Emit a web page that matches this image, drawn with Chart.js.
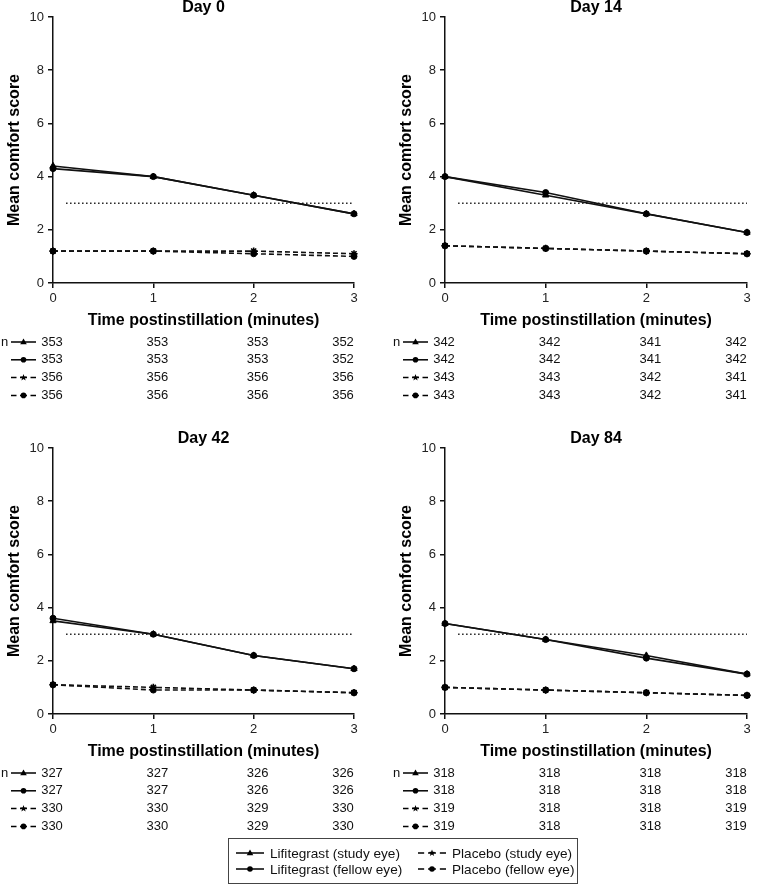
<!DOCTYPE html>
<html>
<head>
<meta charset="utf-8">
<script src="https://cdn.jsdelivr.net/npm/chart.js@4/dist/chart.umd.min.js"></script>
<style>
  html, body { margin:0; padding:0; background:#fff; }
  body { width:757px; height:887px; position:relative; overflow:hidden; font-family:"Liberation Sans", Arial, sans-serif; }
  canvas.panel { position:absolute; }
  #legend { position:absolute; left:228px; top:838px; width:350px; height:46px; border:1px solid #444; box-sizing:border-box; }
  .litem { position:absolute; font-size:13.6px; color:#111; white-space:nowrap; line-height:16px; }
  .litem canvas { vertical-align:middle; margin-right:5px; position:relative; top:-1px; }
</style>
</head>
<body>
<canvas id="c0" class="panel" width="378" height="410" style="left:0px;top:0px"></canvas>
<canvas id="c1" class="panel" width="379" height="410" style="left:378px;top:0px"></canvas>
<canvas id="c2" class="panel" width="378" height="410" style="left:0px;top:431px"></canvas>
<canvas id="c3" class="panel" width="379" height="410" style="left:378px;top:431px"></canvas>
<div id="legend"></div>
<script>
// ---------- data ----------
const timePoints = [0, 1, 2, 3];
const yTicks = [0, 2, 4, 6, 8, 10];
const panelTitles = ['Day 0', 'Day 14', 'Day 42', 'Day 84'];
const seriesNames = ['Lifitegrast (study eye)', 'Lifitegrast (fellow eye)', 'Placebo (study eye)', 'Placebo (fellow eye)'];
const xAxisTitle = 'Time postinstillation (minutes)';
const yAxisTitle = 'Mean comfort score';
const referenceScore = 3;

const day0LifStudy  = [4.4, 4.0, 3.3, 2.6];
const day0LifFellow = [4.3, 4.0, 3.3, 2.6];
const day0PboStudy  = [1.2, 1.2, 1.2, 1.1];
const day0PboFellow = [1.2, 1.2, 1.1, 1.0];

const day14LifStudy  = [4.0, 3.3, 2.6, 1.9];
const day14LifFellow = [4.0, 3.4, 2.6, 1.9];
const day14PboStudy  = [1.4, 1.3, 1.2, 1.1];
const day14PboFellow = [1.4, 1.3, 1.2, 1.1];

const day42LifStudy  = [3.5, 3.0, 2.2, 1.7];
const day42LifFellow = [3.6, 3.0, 2.2, 1.7];
const day42PboStudy  = [1.1, 1.0, 0.9, 0.8];
const day42PboFellow = [1.1, 0.9, 0.9, 0.8];

const day84LifStudy  = [3.4, 2.8, 2.2, 1.5];
const day84LifFellow = [3.4, 2.8, 2.1, 1.5];
const day84PboStudy  = [1.0, 0.9, 0.8, 0.7];
const day84PboFellow = [1.0, 0.9, 0.8, 0.7];

const nDay0  = [[353, 353, 353, 352], [353, 353, 353, 352], [356, 356, 356, 356], [356, 356, 356, 356]];
const nDay14 = [[342, 342, 341, 342], [342, 342, 341, 342], [343, 343, 342, 341], [343, 343, 342, 341]];
const nDay42 = [[327, 327, 326, 326], [327, 327, 326, 326], [330, 330, 329, 330], [330, 330, 329, 330]];
const nDay84 = [[318, 318, 318, 318], [318, 318, 318, 318], [319, 318, 318, 319], [319, 318, 318, 319]];

// ---------- styles ----------
const FONT = '"Liberation Sans", Arial, sans-serif';
const seriesStyle = [
  { dash: [], point: 'triangle', radius: 3.6 },
  { dash: [], point: 'circle', radius: 3 },
  { dash: [5, 3], point: 'star', radius: 3.6 },
  { dash: [5, 3], point: 'circle', radius: 3 }
];
const nColumnShift = [-1, 4, 4, -11];

function drawMarker(ctx, style, x, y) {
  ctx.save();
  ctx.fillStyle = '#000'; ctx.strokeStyle = '#000'; ctx.lineWidth = 1.2; ctx.setLineDash([]);
  if (style.point === 'circle') {
    ctx.beginPath(); ctx.arc(x, y, 2.8, 0, Math.PI * 2); ctx.fill();
  } else if (style.point === 'triangle') {
    ctx.beginPath(); ctx.moveTo(x, y - 3.5); ctx.lineTo(x + 3.3, y + 2.2); ctx.lineTo(x - 3.3, y + 2.2); ctx.closePath(); ctx.fill();
  } else {
    ctx.beginPath();
    for (let k = 0; k < 10; k++) {
      const r = k % 2 === 0 ? 3.6 : 1.5;
      const a = -Math.PI / 2 + k * Math.PI / 5;
      const px = x + r * Math.cos(a), py = y + r * Math.sin(a);
      if (k === 0) ctx.moveTo(px, py); else ctx.lineTo(px, py);
    }
    ctx.closePath(); ctx.fill();
  }
  ctx.restore();
}

function drawSymbol(ctx, x1, x2, y, style) {
  ctx.save();
  ctx.strokeStyle = '#000'; ctx.lineWidth = 1.5;
  if (style.dash.length) {
    const w = x2 - x1;
    ctx.beginPath();
    ctx.moveTo(x1, y); ctx.lineTo(x1 + w * 0.22, y);
    ctx.moveTo(x1 + w * 0.36, y); ctx.lineTo(x1 + w * 0.64, y);
    ctx.moveTo(x1 + w * 0.78, y); ctx.lineTo(x2, y);
    ctx.stroke();
  } else {
    ctx.beginPath(); ctx.moveTo(x1, y); ctx.lineTo(x2, y); ctx.stroke();
  }
  drawMarker(ctx, style, (x1 + x2) / 2, y);
  ctx.restore();
}

const decorPlugin = {
  id: 'decor',
  afterDraw(chart, args, opts) {
    const { ctx, chartArea } = chart;
    const { left, right, top, bottom } = chartArea;
    const xs = chart.scales.x;
    ctx.save();
    ctx.fillStyle = '#000';
    ctx.textBaseline = 'middle';
    ctx.textAlign = 'center';
    ctx.font = 'bold 16px ' + FONT;
    ctx.fillText(opts.title, (left + right) / 2, 8);
    ctx.fillText(xAxisTitle, (left + right) / 2, bottom + 38);
    ctx.save();
    ctx.translate(left - 38, (top + bottom) / 2);
    ctx.rotate(-Math.PI / 2);
    ctx.fillText(yAxisTitle, 0, 0);
    ctx.restore();
    ctx.font = '13px ' + FONT;
    ctx.fillStyle = '#111';
    opts.nRows.forEach((row, i) => {
      const y = bottom + 59 + i * 17.8;
      if (i === 0) { ctx.textAlign = 'left'; ctx.fillText('n', left - 52, y); }
      drawSymbol(ctx, left - 42, left - 17, y, seriesStyle[i]);
      ctx.textAlign = 'center';
      row.forEach((v, j) => ctx.fillText(String(v), xs.getPixelForValue(timePoints[j]) + nColumnShift[j], y));
    });
    ctx.restore();
  }
};

function makeChart(id, title, series, nRows, yWidth, padRight) {
  const datasets = series.map((vals, i) => ({
    label: seriesNames[i],
    data: vals.map((v, j) => ({ x: timePoints[j], y: v })),
    borderColor: '#111', backgroundColor: '#111',
    borderWidth: 1.6, borderDash: seriesStyle[i].dash,
    pointStyle: seriesStyle[i].point, pointRadius: seriesStyle[i].radius,
    pointBorderWidth: seriesStyle[i].point === 'star' ? 1.6 : 1,
    pointBackgroundColor: '#000', pointBorderColor: '#000',
    tension: 0, clip: false
  }));
  datasets.push({
    label: 'reference',
    data: [{ x: 0.13, y: referenceScore }, { x: timePoints[timePoints.length - 1], y: referenceScore }],
    borderColor: '#222', borderWidth: 1.5, borderDash: [1.5, 2.5],
    pointRadius: 0, tension: 0, clip: false
  });
  return new Chart(document.getElementById(id), {
    type: 'line',
    data: { datasets },
    options: {
      responsive: false, animation: false, devicePixelRatio: 1,
      layout: { padding: { left: 0, top: 17, right: padRight, bottom: 0 } },
      plugins: { legend: { display: false }, tooltip: { enabled: false }, decor: { title, nRows } },
      scales: {
        x: {
          type: 'linear', min: 0, max: 3,
          afterFit: s => { s.height = 127; },
          afterBuildTicks: s => { s.ticks = timePoints.map(v => ({ value: v })); },
          ticks: { font: { size: 13, family: FONT }, color: '#222', padding: 3, maxRotation: 0 },
          grid: { drawOnChartArea: false, drawTicks: true, tickLength: 5, color: '#111', lineWidth: 1.5 },
          border: { color: '#111', width: 1.5 }
        },
        y: {
          min: 0, max: 10,
          afterFit: s => { s.width = yWidth; },
          afterBuildTicks: s => { s.ticks = yTicks.map(v => ({ value: v })); },
          ticks: { font: { size: 13, family: FONT }, color: '#222', padding: 4 },
          grid: { drawOnChartArea: false, drawTicks: true, tickLength: 5, color: '#111', lineWidth: 1.5 },
          border: { color: '#111', width: 1.5 }
        }
      }
    },
    plugins: [decorPlugin]
  });
}

makeChart('c0', panelTitles[0], [day0LifStudy, day0LifFellow, day0PboStudy, day0PboFellow], nDay0, 53, 24);
makeChart('c1', panelTitles[1], [day14LifStudy, day14LifFellow, day14PboStudy, day14PboFellow], nDay14, 67, 10);
makeChart('c2', panelTitles[2], [day42LifStudy, day42LifFellow, day42PboStudy, day42PboFellow], nDay42, 53, 24);
makeChart('c3', panelTitles[3], [day84LifStudy, day84LifFellow, day84PboStudy, day84PboFellow], nDay84, 67, 10);

// ---------- legend ----------
const legend = document.getElementById('legend');
const legendPos = [[6, 7], [6, 23], [188, 7], [188, 23]];
seriesNames.forEach((name, i) => {
  const item = document.createElement('div');
  item.className = 'litem';
  item.style.left = legendPos[i][0] + 'px';
  item.style.top = legendPos[i][1] + 'px';
  const c = document.createElement('canvas');
  c.width = 30; c.height = 10;
  drawSymbol(c.getContext('2d'), 1, 29, 5, seriesStyle[i]);
  item.appendChild(c);
  item.appendChild(document.createTextNode(name));
  legend.appendChild(item);
});
</script>
</body>
</html>
